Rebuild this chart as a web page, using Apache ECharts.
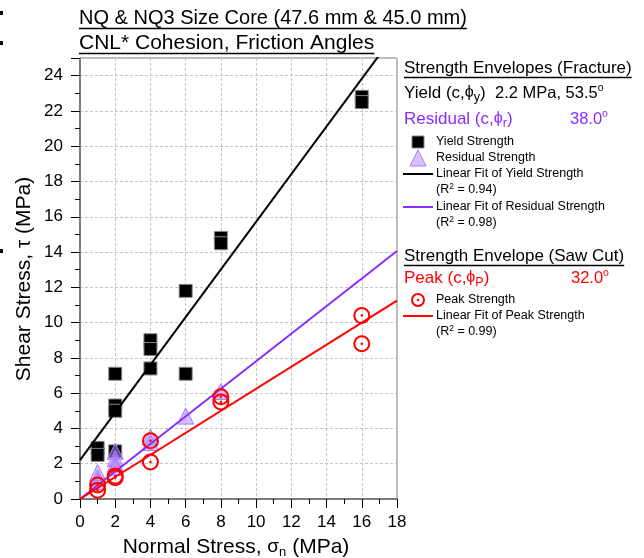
<!DOCTYPE html>
<html><head><meta charset="utf-8">
<script src="https://cdn.jsdelivr.net/npm/echarts@6/dist/echarts.min.js"></script>
<style>html,body{margin:0;padding:0;background:#fff}#c{width:644px;height:558px}</style>
</head><body><div id="c"></div>
<script>
// ---- data ----
const xMin = 0, xMax = 18, yMin = 0, yMax = 25;
const yieldX = [1, 1, 2, 2, 2, 2, 4, 4, 4, 6, 6, 8, 8, 16, 16];
const yieldY = [2.9, 2.5, 7.1, 5.3, 5.0, 2.7, 9.0, 8.5, 7.4, 11.8, 7.1, 14.8, 14.5, 22.8, 22.5];
const residualX = [1, 1, 1, 2, 2, 2, 2, 4, 4, 6, 8];
const residualY = [1.5, 1.2, 1.0, 2.7, 2.3, 2.0, 1.8, 3.5, 3.2, 4.7, 6.1];
const peakX = [1, 1, 2, 2, 4, 4, 8, 8, 16, 16];
const peakY = [0.8, 0.5, 1.3, 1.2, 3.3, 2.1, 5.8, 5.5, 10.4, 8.8];
const fitNames = ['Yield', 'Residual', 'Peak'];
const fitCohesion = [2.2, 0.0, 0.0];
const fitAngle = [53.5, 38.0, 32.0];
const fitR2 = [0.94, 0.98, 0.99];

const FONT = 'Liberation Sans, Arial, sans-serif';
const BLACK = '#000000', PURPLE = '#8B2CFF', RED = '#FF0000';
const TRI_FILL = 'rgba(180,140,255,0.55)', TRI_EDGE = '#A878FF';

const pairs = (xs, ys) => xs.map((x, i) => [x, ys[i]]);
const fitLine = (k) => {
  const t = Math.tan(fitAngle[k] * Math.PI / 180);
  return [[xMin, fitCohesion[k] + t * xMin], [xMax, fitCohesion[k] + t * xMax]];
};

function textW(str, size) {
  const c = document.createElement('canvas').getContext('2d');
  c.font = size + 'px ' + FONT;
  return c.measureText(str).width;
}

const chart = echarts.init(document.getElementById('c'), null, {renderer: 'canvas'});

const sub = (color, size, pad) => ({fill: color, fontSize: size, fontFamily: FONT, padding: pad});
function txt(x, y, text, size, color) {
  return {type: 'text', x: x, y: y, z: 100,
    style: {text: text, fill: color, fontSize: size, fontFamily: FONT, align: 'left', verticalAlign: 'middle'}};
}
function rtxt(x, y, text, size, color, rich) {
  return {type: 'text', x: x, y: y, z: 100,
    style: {text: text, fill: color, fontSize: size, fontFamily: FONT, align: 'left', verticalAlign: 'middle', rich: rich}};
}
function hline(x1, x2, y, color, w) {
  return {type: 'line', z: 100, shape: {x1: x1, y1: y, x2: x2, y2: y}, style: {stroke: color, lineWidth: w}};
}
const phiRich = (color) => ({p: {fill: color, fontSize: 16, fontFamily: FONT}, s: sub(color, 12.5, [9, 0, 0, 0])});
const degRich = (color) => ({o: sub(color, 10.5, [0, 0, 10, 0])});
const r2Rich = {o: sub(BLACK, 8.5, [0, 0, 6, 0])};

const t1 = 'NQ & NQ3 Size Core (47.6 mm & 45.0 mm)';
const t2 = 'CNL* Cohesion, Friction Angles';
const h1 = 'Strength Envelopes (Fracture)';
const h2 = 'Strength Envelope (Saw Cut)';
const T1S = 20, T2S = 21, HS = 17, LS = 12.5;

const graphic = [
  // small marks at left edge
  {type: 'rect', shape: {x: 0, y: 11, width: 3, height: 4}, style: {fill: '#000'}},
  {type: 'rect', shape: {x: 0, y: 41, width: 3, height: 4}, style: {fill: '#000'}},
  {type: 'rect', shape: {x: 0, y: 249, width: 3, height: 4}, style: {fill: '#000'}},
  // titles
  txt(79, 18, t1, T1S, BLACK),
  hline(79, 79 + textW(t1, T1S), 28.5, BLACK, 1.3),
  txt(79, 43, t2, T2S, BLACK),
  hline(79, 79 + textW(t2, T2S), 53.5, BLACK, 1.3),
  // y axis title
  {type: 'text', x: 24, y: 279, rotation: Math.PI / 2, z: 100,
    style: {text: 'Shear Stress, τ (MPa)', fill: BLACK, fontSize: 21, fontFamily: FONT, align: 'center', verticalAlign: 'middle'}},
  // x axis title
  {type: 'text', x: 236, y: 547, z: 100,
    style: {text: 'Normal Stress, {g|σ}{s|n} (MPa)', fill: BLACK, fontSize: 21, fontFamily: FONT, align: 'center', verticalAlign: 'middle',
      rich: {g: {fill: BLACK, fontSize: 19, fontFamily: FONT}, s: sub(BLACK, 13, [11, 0, 0, 0])}}},
  // fracture header
  txt(404, 68, h1, HS, BLACK),
  hline(404, 404 + textW(h1, HS), 77.5, BLACK, 1.5),
  rtxt(404, 93, 'Yield (c,{p|ϕ}{s|y})', HS, BLACK, phiRich(BLACK)),
  rtxt(495, 93, fitCohesion[0].toFixed(1) + ' MPa, ' + fitAngle[0].toFixed(1) + '{o|o}', 16.5, BLACK, degRich(BLACK)),
  rtxt(404, 119, 'Residual (c,{p|ϕ}{s|r})', HS, PURPLE, phiRich(PURPLE)),
  rtxt(570, 119, fitAngle[1].toFixed(1) + '{o|o}', 16.5, PURPLE, degRich(PURPLE)),
  // legend items
  {type: 'rect', z: 100, shape: {x: 412, y: 136, width: 12, height: 12}, style: {fill: '#000', stroke: '#888', lineWidth: 1}},
  txt(436, 142, 'Yield Strength', LS, BLACK),
  {type: 'polygon', z: 100, shape: {points: [[418, 150], [410, 166], [426, 166]]}, style: {fill: TRI_FILL, stroke: TRI_EDGE, lineWidth: 1}},
  txt(436, 158, 'Residual Strength', LS, BLACK),
  hline(403, 433, 174, BLACK, 2),
  txt(436, 174, 'Linear Fit of Yield Strength', LS, BLACK),
  rtxt(436, 190, '(R{o|2} = ' + fitR2[0].toFixed(2) + ')', LS, BLACK, r2Rich),
  hline(403, 433, 207, PURPLE, 2),
  txt(436, 207, 'Linear Fit of Residual Strength', LS, BLACK),
  rtxt(436, 223, '(R{o|2} = ' + fitR2[1].toFixed(2) + ')', LS, BLACK, r2Rich),
  // saw cut header
  txt(404, 256, h2, HS, BLACK),
  hline(404, 404 + textW(h2, HS), 265.5, BLACK, 1.5),
  rtxt(404, 278, 'Peak (c,{p|ϕ}{s|P})', HS, RED, phiRich(RED)),
  rtxt(571, 278, fitAngle[2].toFixed(1) + '{o|o}', 16.5, RED, degRich(RED)),
  {type: 'circle', z: 100, shape: {cx: 418, cy: 300, r: 6}, style: {fill: 'none', stroke: RED, lineWidth: 2}},
  {type: 'circle', z: 100, shape: {cx: 418, cy: 300, r: 1.2}, style: {fill: RED}},
  txt(436, 300, 'Peak Strength', LS, BLACK),
  hline(403, 433, 316, RED, 2),
  txt(436, 316, 'Linear Fit of Peak Strength', LS, BLACK),
  rtxt(436, 332, '(R{o|2} = ' + fitR2[2].toFixed(2) + ')', LS, BLACK, r2Rich)
];

const axisCommon = {
  interval: 2,
  axisLine: {show: true, onZero: false, lineStyle: {color: '#666', width: 1.5}},
  axisTick: {show: true, inside: false, length: 9, lineStyle: {color: '#000', width: 1}},
  minorTick: {show: true, splitNumber: 2, length: 5, lineStyle: {color: '#000', width: 1}},
  splitLine: {show: true, lineStyle: {color: '#c4c4c4', type: [3, 2], width: 1}},
  minorSplitLine: {show: false},
  axisLabel: {color: '#000', fontSize: 17, fontFamily: FONT, margin: 14}
};

const option = {
  animation: false,
  backgroundColor: '#fff',
  grid: {left: 80, right: 247, top: 58, bottom: 59, show: true, borderColor: '#777', borderWidth: 1},
  xAxis: Object.assign({type: 'value', min: xMin, max: xMax}, axisCommon,
    {axisLabel: Object.assign({}, axisCommon.axisLabel, {margin: 15})}),
  yAxis: Object.assign({type: 'value', min: yMin, max: yMax}, axisCommon,
    {axisLabel: Object.assign({}, axisCommon.axisLabel, {margin: 17, showMaxLabel: false,
      formatter: v => (v % 2 === 0 ? String(v) : '')})}),
  series: [
    {name: 'Yield Strength', type: 'scatter', data: pairs(yieldX, yieldY), symbol: 'rect', symbolSize: 13,
      itemStyle: {color: '#000', borderColor: '#888', borderWidth: 1, opacity: 1}, z: 3},
    {name: 'Residual Strength', type: 'scatter', data: pairs(residualX, residualY), symbol: 'triangle', symbolSize: 16,
      itemStyle: {color: TRI_FILL, borderColor: TRI_EDGE, borderWidth: 1, opacity: 1}, z: 4},
    {name: 'Peak Strength', type: 'scatter', data: pairs(peakX, peakY), symbol: 'circle', symbolSize: 15,
      itemStyle: {color: 'rgba(255,255,255,0)', borderColor: RED, borderWidth: 2, opacity: 1}, z: 6},
    {name: 'Peak dot', type: 'scatter', data: pairs(peakX, peakY), symbol: 'circle', symbolSize: 2.5,
      itemStyle: {color: RED, opacity: 1}, z: 6},
    {name: 'Fit Yield', type: 'line', data: fitLine(0), showSymbol: false, symbol: 'none', clip: true,
      lineStyle: {color: BLACK, width: 2}, z: 5},
    {name: 'Fit Residual', type: 'line', data: fitLine(1), showSymbol: false, symbol: 'none', clip: true,
      lineStyle: {color: PURPLE, width: 2}, z: 5},
    {name: 'Fit Peak', type: 'line', data: fitLine(2), showSymbol: false, symbol: 'none', clip: true,
      lineStyle: {color: RED, width: 2}, z: 5}
  ],
  graphic: graphic
};
chart.setOption(option);
</script></body></html>
